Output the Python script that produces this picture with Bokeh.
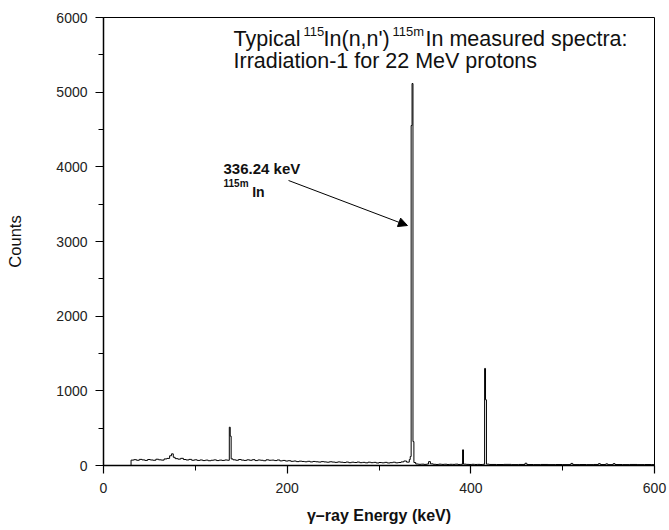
from bokeh.plotting import figure
from bokeh.models import Label, Arrow, NormalHead, Range1d, SingleIntervalTicker
from bokeh.embed import file_html
from bokeh.resources import INLINE

# gamma-ray spectrum (channel start energy in keV, counts)
energy_kev = [0, 30, 33, 36, 39, 42, 45, 48, 51, 54, 57, 60, 63, 66, 69, 72, 74, 76, 78,
              81, 84, 87, 90, 93, 96, 99, 102, 105, 108, 111, 114, 117, 120, 123, 126,
              129, 132, 135, 137, 138, 139, 141, 144, 147, 150, 153, 156, 159, 162, 165,
              168, 171, 174, 177, 180, 183, 186, 189, 192, 195, 198, 201, 204, 207, 210,
              213, 216, 219, 222, 225, 228, 231, 234, 237, 240, 243, 246, 249, 252, 255,
              258, 261, 264, 267, 270, 273, 276, 279, 282, 285, 288, 291, 294, 297, 300,
              303, 306, 309, 312, 315, 318, 321, 324, 327, 330, 333, 334, 335, 336, 337,
              338, 340, 343, 346, 349, 352, 354, 356, 359, 362, 365, 368, 371, 374, 377,
              380, 383, 386, 389, 391, 392, 395, 398, 401, 404, 407, 410, 413, 415, 416,
              417, 420, 428, 436, 444, 452, 459, 461, 468, 476, 484, 492, 500, 509, 511,
              518, 526, 534, 539, 541, 547, 549, 555, 557, 565, 573, 581, 589, 597, 600]
counts = [0, 72, 78, 70, 82, 75, 68, 80, 74, 70, 84, 76, 72, 88, 95, 130, 156, 110, 92,
          85, 96, 80, 74, 82, 70, 76, 68, 74, 66, 72, 64, 70, 75, 66, 72,
          68, 74, 70, 513, 393, 88, 76, 70, 80, 72, 68, 76, 70, 78, 66,
          74, 70, 64, 76, 70, 72, 66, 74, 62, 68, 60, 64, 56, 60, 52,
          58, 54, 50, 56, 48, 54, 50, 46, 52, 48, 44, 50, 46, 42, 48,
          44, 40, 46, 38, 44, 40, 46, 38, 42, 36, 44, 38, 42, 34, 40,
          36, 42, 34, 38, 44, 36, 40, 48, 60, 45, 80, 120, 4553, 5116, 320,
          40, 20, 16, 18, 15, 20, 52, 22, 16, 14, 18, 15, 17, 14, 16,
          15, 18, 14, 16, 210, 18, 15, 14, 16, 14, 15, 13, 16, 1300, 880,
          18, 14, 13, 15, 12, 14, 30, 13, 12, 14, 12, 13, 12, 28, 12,
          13, 12, 14, 25, 13, 22, 12, 25, 13, 12, 14, 12, 13, 12, 12]

x_major_step = 200
y_major_step = 1000

FONT = "Liberation Sans"

p = figure(width=669, height=530, output_backend="svg", toolbar_location=None,
           x_range=Range1d(0, 600), y_range=Range1d(0, 6000),
           min_border_left=103, min_border_right=15, min_border_top=17, min_border_bottom=65)

p.step(energy_kev, counts, mode="after", line_color="black", line_width=1)

p.xaxis.ticker = SingleIntervalTicker(interval=x_major_step, num_minor_ticks=2)
p.yaxis.ticker = SingleIntervalTicker(interval=y_major_step, num_minor_ticks=2)
p.grid.visible = False
p.outline_line_color = "black"
p.outline_line_width = 1
p.background_fill_color = "white"
p.border_fill_color = "white"

for ax in (p.xaxis[0], p.yaxis[0]):
    ax.axis_line_width = 1.5
    ax.axis_line_color = "black"
    ax.major_tick_out = 8
    ax.major_tick_in = 0
    ax.minor_tick_out = 5
    ax.minor_tick_in = 0
    ax.major_tick_line_color = "black"
    ax.minor_tick_line_color = "black"
    ax.major_tick_line_width = 1.2
    ax.major_label_text_font = FONT
    ax.major_label_text_font_size = "14px"
    ax.major_label_text_color = "#222222"
    ax.axis_label_text_font = FONT
    ax.axis_label_text_color = "#111111"

p.xaxis.major_label_standoff = 9
p.yaxis.major_label_standoff = 8
p.xaxis.axis_label = "γ–ray Energy (keV)"
p.xaxis.axis_label_text_font_style = "bold"
p.xaxis.axis_label_text_font_size = "16px"
p.xaxis.axis_label_standoff = 11
p.yaxis.axis_label = "Counts"
p.yaxis.axis_label_text_font_style = "normal"
p.yaxis.axis_label_text_font_size = "16.5px"
p.yaxis.axis_label_standoff = 29

# title block inside the plot
tx, ty1, ty2 = 141.6, 5602, 5313
title_parts = [("Typical", 0, 8, "21.5px"), ("115", 70, 16, "13px"),
               ("In(n,n')", 90, 8, "21.5px"), ("115m", 159, 16, "13px"),
               ("In measured spectra:", 192, 8, "21.5px")]
for txt, xo, yo, fs in title_parts:
    p.add_layout(Label(x=tx, y=ty1, text=txt, x_offset=xo, y_offset=yo,
                       text_font=FONT, text_font_size=fs, text_color="#111111",
                       text_baseline="alphabetic"))
p.add_layout(Label(x=tx, y=ty2, text="Irradiation-1 for 22 MeV protons", y_offset=8,
                   text_font=FONT, text_font_size="21.5px", text_color="#111111",
                   text_baseline="alphabetic"))

# peak annotation
p.add_layout(Label(x=130.7, y=3897, text="336.24 keV", y_offset=6, text_font=FONT,
                   text_font_size="15px", text_font_style="bold", text_color="#111111",
                   text_baseline="alphabetic"))
p.add_layout(Label(x=130.7, y=3716, text="115m", y_offset=5, text_font=FONT,
                   text_font_size="10px", text_font_style="bold", text_color="#111111",
                   text_baseline="alphabetic"))
p.add_layout(Label(x=161.9, y=3593, text="In", y_offset=5, text_font=FONT,
                   text_font_size="14px", text_font_style="bold", text_color="#111111",
                   text_baseline="alphabetic"))
p.add_layout(Arrow(x_start=201.5, y_start=3817, x_end=331.0, y_end=3214,
                   line_color="black", line_width=1,
                   end=NormalHead(size=9, fill_color="black", line_color="black")))

open("out.html", "w").write(file_html(p, INLINE))
